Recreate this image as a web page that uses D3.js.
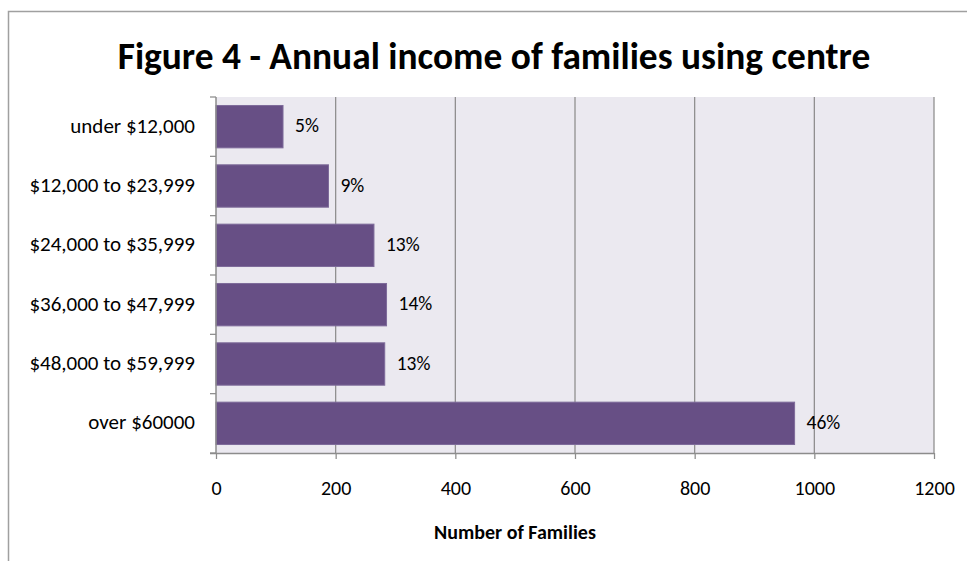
<!DOCTYPE html>
<html>
<head>
<meta charset="utf-8">
<script src="https://cdn.jsdelivr.net/npm/d3@7"></script>
<style>
  html, body { margin: 0; padding: 0; background: #fff; }
  svg { display: block; font-family: Carlito, Lato, "Open Sans", sans-serif; }
</style>
</head>
<body>
<svg id="chart" width="967" height="561"></svg>
<script>
// Income bands (top to bottom) and number of families in each
const categories = [
  "under $12,000",
  "$12,000 to $23,999",
  "$24,000 to $35,999",
  "$36,000 to $47,999",
  "$48,000 to $59,999",
  "over $60000"
];
const families = [112, 188, 264, 285, 282, 967];
const xTicks = [0, 200, 400, 600, 800, 1000, 1200];

const titleText = "Figure 4 - Annual income of families using centre";
const xAxisTitle = "Number of Families";

const svg = d3.select("#chart");
const W = 967, H = 561;
const plot = { left: 216, right: 934, top: 97, bottom: 453 };

const total = d3.sum(families);
const pct = d3.format(".0%");

// outer chart frame
svg.append("path")
  .attr("d", `M8.5,${H} V11.5 H${W}`)
  .attr("fill", "none")
  .attr("stroke", "#a0a0a0")
  .attr("stroke-width", 1.5);

// title
svg.append("text")
  .attr("x", 494)
  .attr("y", 69)
  .attr("text-anchor", "middle")
  .attr("font-weight", "bold")
  .attr("font-size", 37.4)
  .attr("fill", "#000")
  .text(titleText);

const x = d3.scaleLinear().domain([0, 1200]).range([plot.left, plot.right]);
const y = d3.scaleBand().domain(categories)
  .range([plot.top, plot.bottom])
  .paddingInner(0.286)
  .paddingOuter(0.143);

// plot background
svg.append("rect")
  .attr("x", plot.left).attr("y", plot.top)
  .attr("width", plot.right - plot.left)
  .attr("height", plot.bottom - plot.top)
  .attr("fill", "#ebe9f0");

// vertical gridlines
svg.append("g")
  .selectAll("line")
  .data(xTicks.filter(d => d > 0))
  .join("line")
  .attr("x1", d => x(d)).attr("x2", d => x(d))
  .attr("y1", plot.top).attr("y2", plot.bottom)
  .attr("stroke", "#8c8c8c")
  .attr("stroke-width", 1.25);

// bars
svg.append("g")
  .selectAll("rect")
  .data(categories)
  .join("rect")
  .attr("x", x(0))
  .attr("y", d => y(d))
  .attr("width", (d, i) => x(families[i]) - x(0))
  .attr("height", y.bandwidth())
  .attr("fill", "#674f85")
  .attr("stroke", "#7e6b9a")
  .attr("stroke-width", 1);

// percentage labels
svg.append("g")
  .selectAll("text")
  .data(categories)
  .join("text")
  .attr("x", (d, i) => x(families[i]) + 12)
  .attr("y", d => y(d) + y.bandwidth() / 2 + 1)
  .attr("dominant-baseline", "middle")
  .attr("font-size", 19.5)
  .attr("fill", "#000")
  .text((d, i) => pct(families[i] / total));

// x axis
const xAxis = d3.axisBottom(x).tickValues(xTicks).tickSize(6).tickPadding(22).tickFormat(d3.format("d"));
const gx = svg.append("g").attr("transform", `translate(0,${plot.bottom})`).call(xAxis);
gx.attr("font-family", null);
gx.select(".domain").attr("stroke", "#8c8c8c").attr("stroke-width", 1.5)
  .attr("d", `M${plot.left - 6},0.5H${plot.right}`);
gx.selectAll(".tick line").attr("stroke", "#8c8c8c").attr("stroke-width", 1.25);
gx.selectAll(".tick text").attr("font-size", 20).attr("fill", "#000");

// y axis: category labels centred on bands, ticks on band boundaries
const gy = svg.append("g");
gy.append("line")
  .attr("x1", plot.left).attr("x2", plot.left)
  .attr("y1", plot.top).attr("y2", plot.bottom)
  .attr("stroke", "#8c8c8c").attr("stroke-width", 1.5);
const boundaries = d3.range(categories.length + 1).map(i => plot.top + i * (plot.bottom - plot.top) / categories.length);
gy.selectAll("line.tk")
  .data(boundaries)
  .join("line")
  .attr("class", "tk")
  .attr("x1", plot.left - 6).attr("x2", plot.left)
  .attr("y1", d => d).attr("y2", d => d)
  .attr("stroke", "#8c8c8c").attr("stroke-width", 1.25);
gy.selectAll("text")
  .data(categories)
  .join("text")
  .attr("x", 195)
  .attr("y", d => y(d) + y.bandwidth() / 2 + 1)
  .attr("text-anchor", "end")
  .attr("dominant-baseline", "middle")
  .attr("font-size", 21)
  .attr("fill", "#000")
  .text(d => d);

// x axis title
svg.append("text")
  .attr("x", 515)
  .attr("y", 539)
  .attr("text-anchor", "middle")
  .attr("font-weight", "bold")
  .attr("font-size", 20)
  .attr("fill", "#000")
  .text(xAxisTitle);
</script>
</body>
</html>
